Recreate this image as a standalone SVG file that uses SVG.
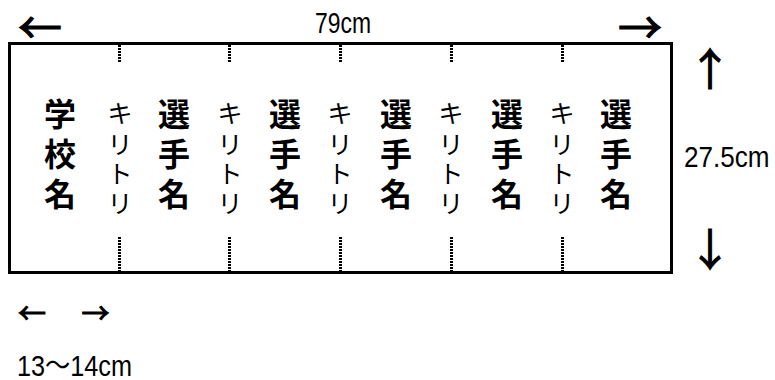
<svg xmlns="http://www.w3.org/2000/svg" width="775" height="380" viewBox="0 0 775 380">
<style>
.big{font-family:"Noto Sans CJK JP","Noto Sans CJK SC",sans-serif;font-size:32px;font-weight:bold;fill:#000;text-anchor:middle}
.kiri{font-family:"Noto Sans CJK JP","Noto Sans CJK SC",sans-serif;font-size:25px;fill:#000;text-anchor:middle}
.dim{font-family:"Liberation Sans","Noto Sans CJK JP",sans-serif;font-size:29px;fill:#000}
.arr{font-family:"Noto Sans CJK JP","Noto Sans CJK SC",sans-serif;fill:#000;stroke:#000;stroke-width:1;text-anchor:middle}
.cut{stroke:#000;stroke-width:3;stroke-dasharray:2 1;fill:none;shape-rendering:crispEdges}
</style>
<rect x="9.5" y="43.5" width="662" height="229" fill="#fff" stroke="#000" stroke-width="3"/>
<g id="connectors">
<line class="cut" x1="119.5" y1="45" x2="119.5" y2="63"/>
<line class="cut" x1="229.5" y1="45" x2="229.5" y2="63"/>
<line class="cut" x1="340.5" y1="45" x2="340.5" y2="63"/>
<line class="cut" x1="451.5" y1="45" x2="451.5" y2="63"/>
<line class="cut" x1="562.5" y1="45" x2="562.5" y2="63"/>
<line class="cut" x1="119.5" y1="237" x2="119.5" y2="271"/>
<line class="cut" x1="229.5" y1="237" x2="229.5" y2="271"/>
<line class="cut" x1="340.5" y1="237" x2="340.5" y2="271"/>
<line class="cut" x1="451.5" y1="237" x2="451.5" y2="271"/>
<line class="cut" x1="562.5" y1="237" x2="562.5" y2="271"/>
</g>
<g id="school"><text class="big"><tspan x="60" y="126">学</tspan><tspan x="60" y="166">校</tspan><tspan x="60" y="206">名</tspan></text></g>
<g id="player1"><text class="big"><tspan x="174" y="126">選</tspan><tspan x="174" y="166">手</tspan><tspan x="174" y="206">名</tspan></text></g>
<g id="player2"><text class="big"><tspan x="285" y="126">選</tspan><tspan x="285" y="166">手</tspan><tspan x="285" y="206">名</tspan></text></g>
<g id="player3"><text class="big"><tspan x="396" y="126">選</tspan><tspan x="396" y="166">手</tspan><tspan x="396" y="206">名</tspan></text></g>
<g id="player4"><text class="big"><tspan x="507" y="126">選</tspan><tspan x="507" y="166">手</tspan><tspan x="507" y="206">名</tspan></text></g>
<g id="player5"><text class="big"><tspan x="616" y="126">選</tspan><tspan x="616" y="166">手</tspan><tspan x="616" y="206">名</tspan></text></g>
<g id="kiri1"><text class="kiri"><tspan x="120" y="123">キ</tspan><tspan x="120" y="154">リ</tspan><tspan x="120" y="183">ト</tspan><tspan x="120" y="213">リ</tspan></text></g>
<g id="kiri2"><text class="kiri"><tspan x="230" y="123">キ</tspan><tspan x="230" y="154">リ</tspan><tspan x="230" y="183">ト</tspan><tspan x="230" y="213">リ</tspan></text></g>
<g id="kiri3"><text class="kiri"><tspan x="340" y="123">キ</tspan><tspan x="340" y="154">リ</tspan><tspan x="340" y="183">ト</tspan><tspan x="340" y="213">リ</tspan></text></g>
<g id="kiri4"><text class="kiri"><tspan x="451" y="123">キ</tspan><tspan x="451" y="154">リ</tspan><tspan x="451" y="183">ト</tspan><tspan x="451" y="213">リ</tspan></text></g>
<g id="kiri5"><text class="kiri"><tspan x="562" y="123">キ</tspan><tspan x="562" y="154">リ</tspan><tspan x="562" y="183">ト</tspan><tspan x="562" y="213">リ</tspan></text></g>
<g id="width-label">
<text class="arr" x="40" y="44" font-size="44">←</text>
<text class="arr" x="640" y="44" font-size="44">→</text>
<text class="dim" transform="translate(315,33) scale(0.79,1)">79cm</text>
</g>
<g id="height-label">
<text class="arr" x="710" y="86" font-size="44">↑</text>
<text class="dim" transform="translate(684,167) scale(0.9,1)">27.5cm</text>
<text class="arr" x="710" y="266" font-size="44">↓</text>
</g>
<g id="section-label">
<text class="arr" x="32" y="324" font-size="28">←</text>
<text class="arr" x="95.5" y="324" font-size="28">→</text>
<text class="dim" transform="translate(17,376) scale(0.87,1)">13〜14cm</text>
</g>
</svg>
